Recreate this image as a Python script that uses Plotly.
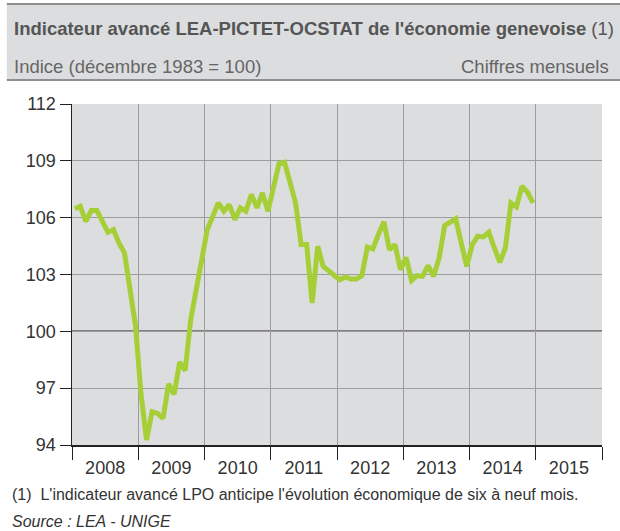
import plotly.graph_objects as go

years = [2008, 2009, 2010, 2011, 2012, 2013, 2014, 2015]
year_labels = [str(y) for y in years]

v2008 = [106.47, 106.60, 105.81, 106.38, 106.38, 105.78, 105.23, 105.37, 104.67, 104.15, 102.40, 100.30]
v2009 = [96.70, 94.26, 95.76, 95.67, 95.41, 97.22, 96.68, 98.37, 97.93, 100.61, 102.20, 103.90]
v2010 = [105.37, 106.07, 106.78, 106.34, 106.69, 105.90, 106.52, 106.34, 107.22, 106.52, 107.31, 106.34]
v2011 = [107.50, 108.86, 108.93, 107.93, 106.78, 104.58, 104.58, 101.49, 104.49, 103.43, 103.22, 102.99]
v2012 = [102.72, 102.87, 102.76, 102.76, 102.94, 104.45, 104.35, 105.12, 105.78, 104.31, 104.58, 103.25]
v2013 = [103.90, 102.69, 102.94, 102.90, 103.47, 102.90, 103.87, 105.58, 105.76, 105.94, 104.67, 103.43]
v2014 = [104.58, 105.02, 104.98, 105.23, 104.40, 103.64, 104.40, 106.78, 106.57, 107.66, 107.34, 106.78]

values = v2008 + v2009 + v2010 + v2011 + v2012 + v2013 + v2014
# monthly positions (middle of each month), in fractional years
xs = [2008 + (i + 0.5) / 12 for i in range(len(values))]

y_ticks = [94, 97, 100, 103, 106, 109, 112]

fig = go.Figure()
fig.add_trace(go.Scatter(
    x=xs, y=values, mode="lines",
    line=dict(color="#a6cf37", width=5),
    hoverinfo="skip", showlegend=False,
))

grid = "#9c9c9e"
fig.update_layout(
    width=620, height=531,
    margin=dict(l=72, r=18, t=104, b=86),
    paper_bgcolor="white",
    plot_bgcolor="#dcdddf",
    font=dict(family="Liberation Sans, Arial, sans-serif", color="#333333", size=18),
    xaxis=dict(
        range=[2008, 2016],
        tickmode="array",
        tickvals=[y + 0.5 for y in years],
        ticktext=year_labels,
        ticks="outside", ticklen=6, tickcolor="rgba(0,0,0,0)",
        showgrid=False, zeroline=False,
        showline=True, linecolor="#222222", linewidth=1.5,
        minor=dict(tickmode="linear", tick0=2008, dtick=1, showgrid=True,
                   gridcolor=grid, gridwidth=1,
                   ticks="outside", ticklen=13, tickcolor="#222222", tickwidth=1),
        tickfont=dict(size=18, color="#333333"),
        fixedrange=True,
    ),
    yaxis=dict(
        range=[94, 112],
        tickmode="array", tickvals=y_ticks,
        ticks="outside", ticklen=11, tickcolor="#222222", tickwidth=1,
        showgrid=True, gridcolor=grid, gridwidth=1,
        zeroline=False,
        showline=True, linecolor="#222222", linewidth=1.5,
        tickfont=dict(size=18, color="#333333"),
        fixedrange=True,
    ),
    shapes=[
        # header band
        dict(type="rect", xref="paper", yref="paper",
             x0=-0.123, x1=1.04, y0=1.0704, y1=1.2933,
             fillcolor="#dcdddf", line=dict(width=0), layer="below"),
        dict(type="line", xref="paper", yref="paper",
             x0=-0.123, x1=1.04, y0=1.2933, y1=1.2933,
             line=dict(color="#8e8e90", width=2)),
        dict(type="line", xref="paper", yref="paper",
             x0=-0.123, x1=1.04, y0=1.0704, y1=1.0704,
             line=dict(color="#8e8e90", width=2)),
        # dark reference line at 100
        dict(type="line", xref="paper", yref="y",
             x0=0, x1=1, y0=100, y1=100,
             line=dict(color="#222222", width=1.5), layer="below"),
    ],
    annotations=[
        dict(xref="paper", yref="paper", x=-0.1132, y=1.22,
             xanchor="left", yanchor="middle", showarrow=False,
             text="<b>Indicateur avancé LEA-PICTET-OCSTAT de l'économie genevoise</b> (1)",
             font=dict(size=18.5, color="#555555")),
        dict(xref="paper", yref="paper", x=-0.1132, y=1.111,
             xanchor="left", yanchor="middle", showarrow=False,
             text="Indice (décembre 1983 = 100)",
             font=dict(size=18.5, color="#666666")),
        dict(xref="paper", yref="paper", x=1.017, y=1.111,
             xanchor="right", yanchor="middle", showarrow=False,
             text="Chiffres mensuels",
             font=dict(size=18.5, color="#666666")),
        dict(xref="paper", yref="paper", x=-0.117, y=-0.1466,
             xanchor="left", yanchor="middle", showarrow=False,
             text="(1)  L'indicateur avancé LPO anticipe l'évolution économique de six à neuf mois.",
             font=dict(size=16, color="#333333")),
        dict(xref="paper", yref="paper", x=-0.117, y=-0.2229,
             xanchor="left", yanchor="middle", showarrow=False,
             text="<i>Source : LEA - UNIGE</i>",
             font=dict(size=16, color="#333333")),
    ],
)

fig.write_html("out.html",
               config={"displayModeBar": False, "staticPlot": True},
               post_script="document.body.style.margin='0';document.body.style.overflow='hidden';")
